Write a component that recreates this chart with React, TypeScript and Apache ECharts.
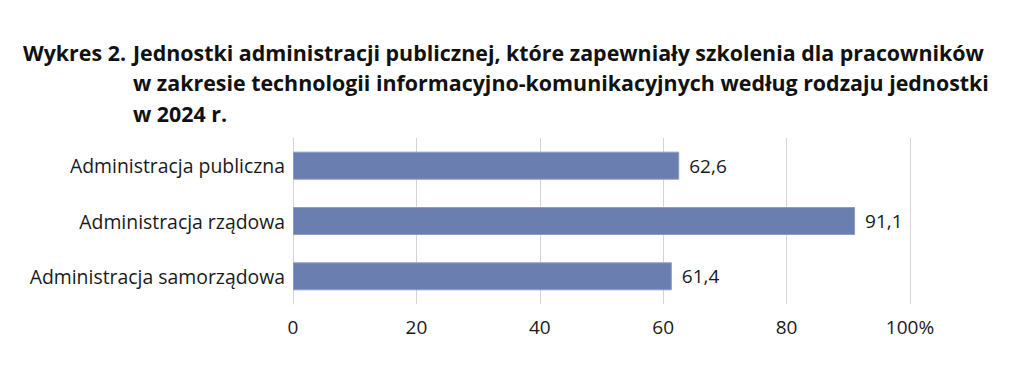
import React, { useEffect, useRef } from "react";
import * as echarts from "echarts";

const categories = [
  "Administracja publiczna",
  "Administracja rządowa",
  "Administracja samorządowa",
];
const values = [62.6, 91.1, 61.4];
const xTicks = [0, 20, 40, 60, 80, 100];

const titlePrefix = "Wykres 2.";
const titleLines = [
  "Jednostki administracji publicznej, które zapewniały szkolenia dla pracowników",
  "w zakresie technologii informacyjno-komunikacyjnych według rodzaju jednostki",
  "w 2024 r.",
];

const FONT = "'Open Sans', 'Noto Sans', sans-serif";
const TXT = "#1a1a1a";

export default function App() {
  const ref = useRef<HTMLDivElement>(null);
  useEffect(() => {
    if (!ref.current) return;
    const chart = echarts.init(ref.current, undefined, { renderer: "svg" });
    const titleStyle = { fontFamily: FONT, fontWeight: "bold", fontSize: 21.4, color: "#111111", lineHeight: 30.5 };
    chart.setOption({
      animation: false,
      backgroundColor: "#ffffff",
      textStyle: { fontFamily: FONT },
      title: [
        { text: titlePrefix, left: 23, top: 37, padding: 0, textStyle: titleStyle },
        { text: titleLines.join("\n"), left: 133, top: 37, padding: 0, textStyle: titleStyle },
      ],
      grid: { left: 293, right: 114, top: 138, height: 166, containLabel: false },
      xAxis: {
        type: "value",
        min: 0,
        max: 100,
        interval: 20,
        axisLine: { show: false },
        axisTick: { show: false },
        splitLine: { show: true, lineStyle: { color: "#d4d4d4", width: 1 } },
        axisLabel: {
          margin: 13,
          fontSize: 19,
          color: TXT,
          fontFamily: FONT,
          formatter: (v: number) => (xTicks.includes(v) ? (v === 100 ? "100%" : String(v)) : ""),
        },
      },
      yAxis: {
        type: "category",
        inverse: true,
        data: categories,
        axisLine: { show: true, lineStyle: { color: "#d4d4d4" } },
        axisTick: { show: false },
        axisLabel: { margin: 8, fontSize: 19.4, color: TXT, fontFamily: FONT },
      },
      series: [
        {
          type: "bar",
          data: values,
          barWidth: 28,
          itemStyle: { color: "#6b7eb0", borderColor: "#8e9dc8", borderWidth: 1 },
          label: {
            show: true,
            position: "right",
            distance: 10,
            fontSize: 19,
            color: TXT,
            fontFamily: FONT,
            formatter: (p: any) => String(p.value).replace(".", ","),
          },
        },
      ],
    });
    return () => chart.dispose();
  }, []);
  return (
    <div
      ref={ref}
      style={{ position: "fixed", left: 0, top: 0, width: 1024, height: 367 }}
    />
  );
}
